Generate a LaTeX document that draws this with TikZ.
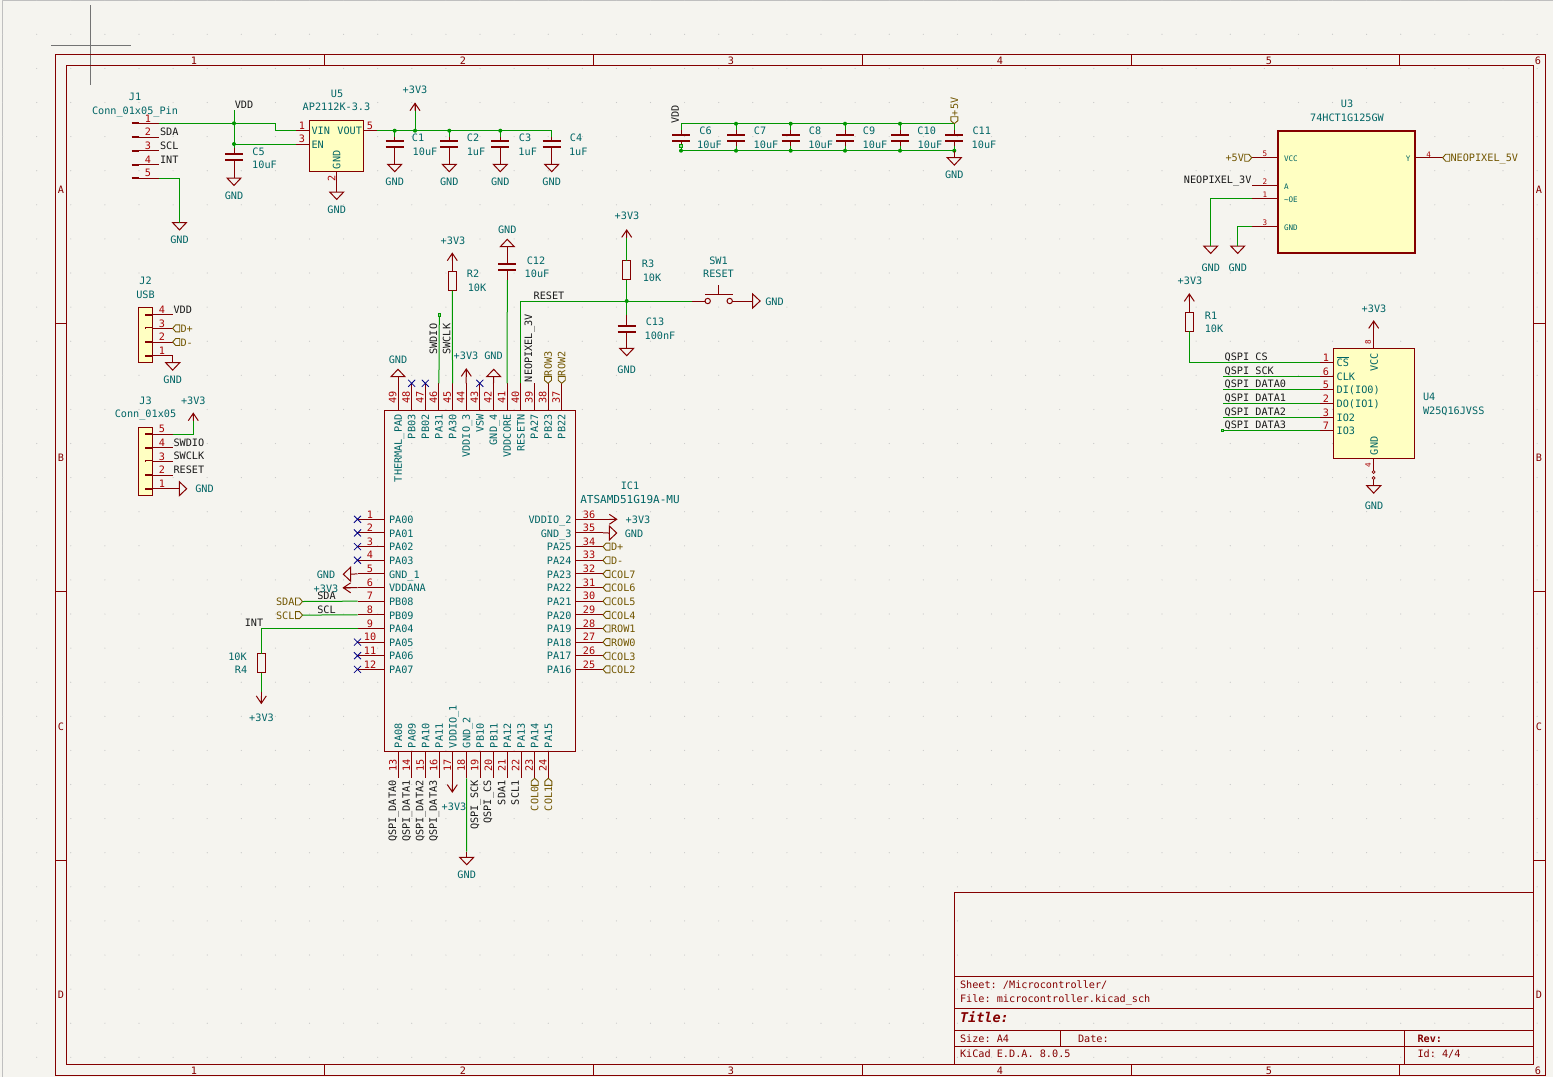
\documentclass[tikz,border=0pt]{standalone}
\usepackage{fontspec}
\setmonofont{DejaVu Sans Mono}
\definecolor{sheetbg}{HTML}{F5F4EF}
\definecolor{kired}{HTML}{840000}
\definecolor{pinred}{HTML}{A90000}
\definecolor{fieldteal}{HTML}{006464}
\definecolor{wiregreen}{HTML}{009600}
\definecolor{hierbrown}{HTML}{725600}
\definecolor{ncblue}{HTML}{000084}
\definecolor{symfill}{HTML}{FFFFC2}
\newcommand{\kifont}{\fontsize{10.2}{12}\selectfont\ttfamily}
\newcommand{\kismall}{\fontsize{7.6}{9}\selectfont\ttfamily}
\tikzstyle{wire} = [draw=wiregreen, line width=1pt]
\tikzstyle{pinl} = [draw=kired, line width=1pt]
\tikzstyle{stub} = [draw=kired, line width=2pt]
\tikzstyle{nconn} = [draw=ncblue, line width=.8pt]
\tikzstyle{frame} = [draw=kired, line width=1pt]
\tikzstyle{hline} = [draw=hierbrown, line width=.9pt]
\tikzstyle{txt} = [font=\kifont, inner sep=0pt, outer sep=0pt, text height=7.5pt, text depth=0pt, yshift=-.5pt]
\tikzstyle{fld} = [txt, text=fieldteal]
\tikzstyle{num} = [txt, text=pinred]
\tikzstyle{net} = [txt, text=black!90]
\tikzstyle{hier} = [txt, text=hierbrown]
\tikzstyle{sheet} = [txt, text=kired, anchor=west]
\tikzstyle{junc} = [circle, fill=wiregreen, inner sep=0pt, minimum size=4pt]
\tikzstyle{dang} = [rectangle, draw=wiregreen, fill=wiregreen!40, line width=.8pt, inner sep=0pt, minimum size=2.6pt]
\tikzstyle{chip} = [rectangle, draw=kired, fill=symfill, line width=1pt, inner sep=0pt, outer sep=0pt]
\tikzstyle{res} = [rectangle, draw=kired, line width=1pt, inner sep=0pt, outer sep=0pt, minimum width=8pt, minimum height=19pt]
\newcommand{\gndsym}[4]{\coordinate (#1) at (#2,#3);
  \draw[pinl, shift={(#2,#3)}, rotate=#4] (-7,0) -- (7,0) -- (0,7.4) -- cycle;}
\newcommand{\pwrsym}[4]{\coordinate (#1) at (#2,#3);
  \draw[pinl, shift={(#2,#3)}, rotate=#4] (-5,7.4) -- (0,0) -- (5,7.4) (0,0) -- (0,7.4);}
\newcommand{\hiersym}[4]{\coordinate (#1) at (#2,#3);
  \draw[hline, shift={(#2,#3)}, rotate=#4] (0,0) -- (3,-3.5) -- (7,-3.5) -- (7,3.5) -- (3,3.5) -- cycle;}
\newcommand{\capsym}[3]{\coordinate (#1t) at (#2,#3); \coordinate (#1b) at (#2,#3+6);
  \draw[stub] (#2-9,#3) -- (#2+9,#3) (#2-9,#3+6) -- (#2+9,#3+6);}
\begin{document}
\begin{tikzpicture}[x=1pt, y=-1pt]
        \useasboundingbox (0,0) rectangle (1553,1077);
        \fill[sheetbg] (0,0) rectangle (1553,1077);
        \draw[black!25, line width=.8pt] (2,1077) -- (2,.5) -- (1553,.5);
        % Grid
        \foreach \i in {0,...,45} \foreach \j in {0,...,31}
            \fill[black!22] ({2.6+\i*34.1},{.2+\j*34.1}) circle (.6);
        \draw[black!55, line width=.8pt] (90,5) -- (90,85) (51,45) -- (131,45);

        % Sheet frame
        \draw[frame] (55.5,54.5) rectangle (1545,1075);
        \draw[frame] (66.5,65.5) rectangle (1533.5,1064);
        \foreach \x in {324.5,593,862,1131,1399.6}
            \draw[frame] (\x,54.5) -- (\x,65.5) (\x,1064) -- (\x,1075);
        \foreach \y in {323,591,860}
            \draw[frame] (55.5,\y) -- (66.5,\y) (1533.5,\y) -- (1545,\y);
        \foreach \t/\x [count=\i] in {1/194,2/463,3/731,4/1000,5/1269,6/1538} {
            \node (coltop\i) [sheet, anchor=center] at (\x,60) {\t};
            \node (colbot\i) [sheet, anchor=center] at (\x,1070) {\t};
        }
        \foreach \t/\y [count=\i] in {A/189,B/457,C/726,D/994} {
            \node (rowl\i) [sheet, anchor=center] at (61,\y) {\t};
            \node (rowr\i) [sheet, anchor=center] at (1539,\y) {\t};
        }
        % Title block
        \draw[frame] (954,1064) -- (954,892) -- (1533.5,892) (954,976) -- (1533.5,976) (954,1008) -- (1533.5,1008)
            (954,1030) -- (1533.5,1030) (954,1046) -- (1533.5,1046) (1060.8,1030) -- (1060.8,1046) (1404.6,1030) -- (1404.6,1064);
        \node (sheetname) [sheet] at (960,984) {Sheet: /Microcontroller/};
        \node (filename) [sheet] at (960,998.5) {File: microcontroller.kicad\_sch};
        \node (titlename) [sheet, font=\fontsize{13.5}{15}\selectfont\ttfamily\bfseries\itshape] at (960,1018) {Title:};
        \node (sizename) [sheet] at (960,1038.5) {Size: A4};
        \node (datename) [sheet] at (1078,1038.5) {Date:};
        \node (revname) [sheet, font=\kifont\bfseries] at (1417.5,1038) {Rev:};
        \node (kicadname) [sheet] at (960,1053) {KiCad E.D.A. 8.0.5};
        \node (idname) [sheet] at (1417.5,1053) {Id: 4/4};

        % IC1
        \node (ic1) [chip, fill=none, minimum width=191pt, minimum height=341pt] at (480.2,581) {};
        \node (ic1ref) [fld] at (630,485) {IC1};
        \node (ic1val) [fld, font=\fontsize{11}{12}\selectfont\ttfamily] at (630,499) {ATSAMD51G19A-MU};
        \foreach \n/\t [count=\i, evaluate=\i as \py using 505.66+13.64*\i] in {1/PA00,2/PA01,3/PA02,4/PA03,5/GND\_1,6/VDDANA,7/PB08,8/PB09,9/PA04,10/PA05,11/PA06,12/PA07} {
            \coordinate (p\n) at (357.5,\py);
            \draw[pinl] (384.7,\py) -- (p\n);
            \node (pinnum\n) [num] at (370,\py-5.5) {\n};
            \node (pinname\n) [fld, anchor=west] at (389,\py) {\t};
        }
        \foreach \n/\t [count=\i, evaluate=\i as \py using 505.66+13.64*\i] in {36/VDDIO\_2,35/GND\_3,34/PA25,33/PA24,32/PA23,31/PA22,30/PA21,29/PA20,28/PA19,27/PA18,26/PA17,25/PA16} {
            \coordinate (p\n) at (603,\py);
            \draw[pinl] (575.7,\py) -- (p\n);
            \node (pinnum\n) [num] at (589,\py-5.5) {\n};
            \node (pinname\n) [fld, anchor=east] at (571.5,\py) {\t};
        }
        \foreach \n/\t [count=\i, evaluate=\i as \px using 384.36+13.64*\i] in {49/THERMAL\_PAD,48/PB03,47/PB02,46/PA31,45/PA30,44/VDDIO\_3,43/VSW,42/GND\_4,41/VDDCORE,40/RESETN,39/PA27,38/PB23,37/PB22} {
            \coordinate (p\n) at (\px,383.3);
            \draw[pinl] (\px,410.3) -- (p\n);
            \node (pinnum\n) [num, rotate=90] at (\px-5.5,397) {\n};
            \node (pinname\n) [fld, rotate=90, anchor=east] at (\px,414) {\t};
        }
        \foreach \n/\t [count=\i, evaluate=\i as \px using 384.66+13.64*\i] in {13/PA08,14/PA09,15/PA10,16/PA11,17/VDDIO\_1,18/GND\_2,19/PB10,20/PB11,21/PA12,22/PA13,23/PA14,24/PA15} {
            \coordinate (p\n) at (\px,778.3);
            \draw[pinl] (\px,751.7) -- (p\n);
            \node (pinnum\n) [num, rotate=90] at (\px-5.5,765) {\n};
            \node (pinname\n) [fld, rotate=90, anchor=west] at (\px,747.5) {\t};
        }
        % Not connected
        \foreach \n in {1,2,3,4,10,11,12,48,47,43}
            \draw[nconn] ([shift={(-3.5,-3.5)}]p\n) -- ([shift={(3.5,3.5)}]p\n) ([shift={(-3.5,3.5)}]p\n) -- ([shift={(3.5,-3.5)}]p\n);

        % IC1 left side
        \gndsym{gndp5}{350.7}{574.2}{-90}
        \draw[pinl] (p5) -- (gndp5);
        \node (gndp5lab) [fld] at (326,574) {GND};
        \pwrsym{pwrp6}{343.3}{587.8}{90}
        \draw[pinl] (p6) -- (pwrp6);
        \node (pwrp6lab) [fld] at (326,588) {+3V3};
        \hiersym{hsda}{302.5}{601.5}{180}
        \hiersym{hscl}{302.5}{615.1}{180}
        \draw[wire] (p7) -- (hsda);
        \draw[wire] (p8) -- (hscl);
        \node (hsdalab) [hier, anchor=east] at (294.5,601.5) {SDA};
        \node (hscllab) [hier, anchor=east] at (294.5,615.1) {SCL};
        \node (netsda) [net] at (326.5,595) {SDA};
        \node (netscl) [net] at (326.5,609) {SCL};
        \node (netint) [net] at (254,622.5) {INT};
        \node (r4) [res] at (261.3,663) {};
        \pwrsym{pwrr4}{261.3}{703.3}{180}
        \draw[wire] (p9) -| (r4.north);
        \draw[wire] (r4.south) -- (261.3,692);
        \draw[pinl] (261.3,692) -- (pwrr4);
        \node (r4val) [fld] at (237.5,656.5) {10K};
        \node (r4ref) [fld] at (241,669.5) {R4};
        \node (pwrr4lab) [fld] at (261.5,717) {+3V3};

        % IC1 right side
        \pwrsym{pwrp36}{616.7}{519.3}{-90}
        \draw[pinl] (p36) -- (pwrp36);
        \node (pwrp36lab) [fld] at (638,519) {+3V3};
        \gndsym{gndp35}{609.3}{533}{90}
        \draw[pinl] (p35) -- (gndp35);
        \node (gndp35lab) [fld] at (634,533) {GND};
        \foreach \n/\t [count=\i, evaluate=\i as \py using 533+13.64*\i] in {34/D+,33/D-,32/COL7,31/COL6,30/COL5,29/COL4,28/ROW1,27/ROW0,26/COL3,25/COL2} {
            \hiersym{h\n}{603}{\py}{0}
            \node (hlab\n) [hier, anchor=west] at (611,\py) {\t};
        }

        % IC1 top side
        \gndsym{gndp49}{398}{376.7}{180}
        \draw[pinl] (p49) -- (gndp49);
        \node (gndp49lab) [fld] at (398,359) {GND};
        \node (dang46) [dang] at (439.3,315) {};
        \draw[wire] (p46) -- (dang46);
        \node (netswdio) [net, rotate=90, anchor=west] at (433.3,354) {SWDIO};
        \node (netswclk) [net, rotate=90, anchor=west] at (446.7,354) {SWCLK};
        \node (r2) [res] at (452.3,281) {};
        \pwrsym{pwrr2}{452.3}{253.3}{0}
        \draw[pinl] (pwrr2) -- (r2.north);
        \draw[wire] (p45) -- (r2.south);
        \node (pwrr2lab) [fld] at (453,240) {+3V3};
        \node (r2ref) [fld] at (473,273.5) {R2};
        \node (r2val) [fld] at (477,287) {10K};
        \pwrsym{pwrp44}{466.3}{369}{0}
        \draw[pinl] (p44) -- (pwrp44);
        \node (pwrp44lab) [fld] at (466,355) {+3V3};
        \gndsym{gndp42}{493.7}{376.7}{180}
        \draw[pinl] (p42) -- (gndp42);
        \node (gndp42lab) [fld] at (493.5,355) {GND};
        \capsym{c12}{507.3}{263.5}
        \gndsym{gndc12}{507.3}{246.7}{180}
        \draw[pinl] (gndc12) -- (c12t);
        \draw[pinl] (c12b) -- (507.3,280);
        \draw[wire] (p41) -- (507.3,280);
        \node (gndc12lab) [fld] at (507.3,229) {GND};
        \node (c12ref) [fld] at (536,260) {C12};
        \node (c12val) [fld] at (537,273) {10uF};
        \node (junreset) [junc] at (626.7,301) {};
        \draw[wire] (p40) |- (692,301);
        \node (netreset) [net] at (549,295) {RESET};
        \node (netneo) [net, rotate=90, anchor=west] at (528.3,381.5) {NEOPIXEL\_3V};
        \hiersym{hrow3}{548}{383.3}{90}
        \hiersym{hrow2}{561.7}{383.3}{90}
        \node (hrow3lab) [hier, rotate=90, anchor=west] at (548,375.5) {ROW3};
        \node (hrow2lab) [hier, rotate=90, anchor=west] at (561.7,375.5) {ROW2};

        % Reset switch and R3, C13
        \node (r3) [res] at (626.7,270) {};
        \pwrsym{pwrr3}{626.7}{230}{0}
        \draw[pinl] (pwrr3) -- (626.7,238);
        \draw[wire] (626.7,238) -- (r3.north);
        \draw[wire] (r3.south) -- (junreset);
        \capsym{c13}{626.7}{325.7}
        \gndsym{gndc13}{626.7}{348.3}{0}
        \draw[wire] (junreset) -- (626.7,315);
        \draw[pinl] (626.7,315) -- (c13t);
        \draw[pinl] (c13b) -- (gndc13);
        \node (pwrr3lab) [fld] at (627,215.5) {+3V3};
        \node (r3ref) [fld] at (648,263) {R3};
        \node (r3val) [fld] at (652,277) {10K};
        \node (c13ref) [fld] at (655,321.5) {C13};
        \node (c13val) [fld] at (660,335) {100nF};
        \node (gndc13lab) [fld] at (626.7,369) {GND};
        \draw[pinl] (692,301) -- (705,301);
        \draw[pinl] (707.7,301) circle (2.7);
        \draw[pinl] (729.7,301) circle (2.7);
        \draw[pinl] (705,294) -- (732.5,294) (718.7,294) -- (718.7,285);
        \gndsym{gndsw1}{752.7}{301}{90}
        \draw[pinl] (732.4,301) -- (gndsw1);
        \node (sw1ref) [fld] at (718.5,260) {SW1};
        \node (sw1val) [fld] at (718.5,273.5) {RESET};
        \node (gndsw1lab) [fld] at (774.5,301) {GND};

        % IC1 bottom side
        \foreach \n/\t/\x in {a/0/392.3,b/1/406,c/2/419.7,d/3/433}
            \node (netqd\n) [net, rotate=90, anchor=east] at (\x,780) {QSPI\_DATA\t};
        \pwrsym{pwrp17}{452.3}{792}{180}
        \draw[pinl] (452.3,778) -- (pwrp17);
        \node (pwrp17lab) [fld] at (454,806) {+3V3};
        \gndsym{gndp18}{466.7}{857.3}{0}
        \draw[wire] (p18) -- (466.7,851.5);
        \draw[pinl] (466.7,851.5) -- (gndp18);
        \node (gndp18lab) [fld] at (466.7,874) {GND};
        \node (netqsck) [net, rotate=90, anchor=east] at (474.3,780) {QSPI\_SCK};
        \node (netqcs) [net, rotate=90, anchor=east] at (487.3,780) {QSPI\_CS};
        \node (netsda1) [net, rotate=90, anchor=east] at (501.7,780) {SDA1};
        \node (netscl1) [net, rotate=90, anchor=east] at (515,780) {SCL1};
        \hiersym{hcol0}{534.7}{778.3}{-90}
        \hiersym{hcol1}{548.3}{778.3}{-90}
        \node (hcol0lab) [hier, rotate=90, anchor=east] at (534.7,786) {COL0};
        \node (hcol1lab) [hier, rotate=90, anchor=east] at (548.3,786) {COL1};

        % J1
        \foreach \n/\t/\y in {1//123.3,2/SDA/137.2,3/SCL/150.8,4/INT/164.6,5//178.2} {
            \coordinate (j1p\n) at (159,\y);
            \draw[stub] (131.7,\y) -- (139,\y);
            \draw[pinl] (139,\y) -- (j1p\n);
            \node (j1num\n) [num] at (148,\y-5.5) {\n};
            \node (j1net\n) [net, anchor=west] at (160,\y-5.7) {\t};
        }
        \node (j1ref) [fld] at (135,96.5) {J1};
        \node (j1val) [fld] at (135,110) {Conn\_01x05\_Pin};
        \gndsym{gndj1}{179.5}{222.5}{0}
        \draw[wire] (j1p5) -| (gndj1);
        \node (gndj1lab) [fld] at (179.5,239.5) {GND};

        % U5
        \node (u5) [chip, minimum width=54pt, minimum height=50.5pt] at (336.4,146) {};
        \node (u5ref) [fld] at (337,93) {U5};
        \node (u5val) [fld] at (336.5,106) {AP2112K-3.3};
        \node (u5vin) [fld, anchor=west] at (311.5,130.5) {VIN};
        \node (u5en) [fld, anchor=west] at (311.5,144) {EN};
        \node (u5vout) [fld, anchor=east] at (362,130.5) {VOUT};
        \node (u5gnd) [fld, rotate=90, anchor=west] at (336.7,168.5) {GND};
        \coordinate (u5p1) at (295.7,130.7);
        \coordinate (u5p3) at (295.7,144);
        \coordinate (u5p5) at (376.7,130.7);
        \draw[pinl] (u5p1) -- (309.3,130.7);
        \draw[pinl] (u5p3) -- (309.3,144);
        \draw[pinl] (363.3,130.7) -- (u5p5);
        \node (u5num1) [num] at (302,125.5) {1};
        \node (u5num3) [num] at (302,138.5) {3};
        \node (u5num5) [num] at (370,125.5) {5};
        \node (u5num2) [num, rotate=90] at (331.5,178) {2};
        \gndsym{gndu5}{336.7}{192}{0}
        \draw[pinl] (336.7,171) -- (gndu5);
        \node (gndu5lab) [fld] at (336.7,209) {GND};
        \draw[wire] (j1p1) -- (275.7,123.3) |- (u5p1);
        \node (netvdd) [net] at (244,104) {VDD};
        \coordinate (vddtop) at (234,110);
        \capsym{c5}{234}{154.3}
        \draw[wire] (vddtop) -- (234,148);
        \draw[pinl] (234,148) -- (c5t);
        \draw[wire] (234,144) -- (u5p3);
        \node (junvdd1) [junc] at (234,123.3) {};
        \node (junvdd2) [junc] at (234,144) {};
        \gndsym{gndc5}{234}{178}{0}
        \draw[pinl] (c5b) -- (gndc5);
        \node (gndc5lab) [fld] at (234,195) {GND};
        \node (c5ref) [fld] at (258.5,151) {C5};
        \node (c5val) [fld] at (264.5,164) {10uF};

        % C1 to C4
        \foreach \n/\x/\v/\rx/\vx in {1/394.7/10uF/418/425,2/449.3/1uF/473/476,3/500.3/1uF/525/527.7,4/551.7/1uF/576/578.3} {
            \capsym{c\n}{\x}{140.7}
            \draw[wire] (\x,130.7) -- (\x,137);
            \draw[pinl] (\x,137) -- (c\n t);
            \gndsym{gndc\n}{\x}{164.3}{0}
            \draw[pinl] (c\n b) -- (gndc\n);
            \node (gndc\n lab) [fld] at (\x,181) {GND};
            \node (c\n ref) [fld] at (\rx,137) {C\n};
            \node (c\n val) [fld] at (\vx,151) {\v};
        }
        \draw[wire] (u5p5) -- (551.7,130.7);
        \foreach \x [count=\i] in {394.7,415,449.3,500.3}
            \node (junv\i) [junc] at (\x,130.7) {};
        \pwrsym{pwru5}{415}{103.3}{0}
        \draw[pinl] (pwru5) -- (415,111);
        \draw[wire] (415,111) -- (415,130.7);
        \node (pwru5lab) [fld] at (415,89) {+3V3};

        % C6 to C11
        \foreach \n/\x/\rx/\vx in {6/681/705.5/709.5,7/736/760/766,8/790.7/815/820.7,9/845/869/875,10/900/926.7/930,11/954.3/981.7/984} {
            \capsym{c\n}{\x}{135}
            \draw[wire] (\x,123.7) -- (\x,130);
            \draw[pinl] (\x,130) -- (c\n t);
            \draw[pinl] (c\n b) -- (\x,146);
            \draw[wire] (\x,146) -- (\x,150.7);
            \node (c\n ref) [fld] at (\rx,130) {C\n};
            \node (c\n val) [fld] at (\vx,144) {10uF};
            \node (junb\n) [junc] at (\x,150.7) {};
        }
        \draw[wire] (681,123.7) -- (954.3,123.7);
        \draw[wire] (681,150.7) -- (954.3,150.7);
        \foreach \x [count=\i] in {736,790.7,845,900}
            \node (junt\i) [junc] at (\x,123.7) {};
        \node (dangvdd) [dang] at (681,146) {};
        \node (netvddb) [net, rotate=90, anchor=west] at (675,123) {VDD};
        \hiersym{h5va}{954.3}{123.7}{90}
        \node (h5valab) [hier, rotate=90, anchor=west] at (954.3,115.5) {+5V};
        \gndsym{gndc11}{954.3}{157.7}{0}
        \draw[pinl] (954.3,150.7) -- (gndc11);
        \node (gndc11lab) [fld] at (954.3,174) {GND};

        % J2
        \node (j2) [chip, minimum width=14.4pt, minimum height=55pt] at (145.5,334.8) {};
        \node (j2ref) [fld] at (145.5,280) {J2};
        \node (j2val) [fld] at (145.5,294) {USB};
        \foreach \n/\y in {4/314.7,3/328.3,2/342,1/355.7} {
            \coordinate (j2p\n) at (172.7,\y);
            \draw[stub] (145,\y) -- (152.7,\y);
            \draw[pinl] (152.7,\y) -- (j2p\n);
            \node (j2num\n) [num] at (162,\y-5.5) {\n};
        }
        \draw[symfill, line width=.7pt] (146,328.3) -- (151.8,328.3);
        \node (j2vdd) [net, anchor=west] at (173.5,309) {VDD};
        \hiersym{hdpj}{172.7}{328.3}{0}
        \hiersym{hdmj}{172.7}{342}{0}
        \node (hdpjlab) [hier, anchor=west] at (180.5,328.3) {D+};
        \node (hdmjlab) [hier, anchor=west] at (180.5,342) {D-};
        \gndsym{gndj2}{172.7}{362.7}{0}
        \draw[pinl] (j2p1) -- (gndj2);
        \node (gndj2lab) [fld] at (172.7,379) {GND};

        % J3
        \node (j3) [chip, minimum width=14.4pt, minimum height=68.4pt] at (145.5,461.5) {};
        \node (j3ref) [fld] at (145.5,400) {J3};
        \node (j3val) [fld] at (145.5,413.5) {Conn\_01x05};
        \foreach \n/\t/\y in {5//434,4/SWDIO/447.7,3/SWCLK/461.4,2/RESET/475,1//488.7} {
            \coordinate (j3p\n) at (172.7,\y);
            \draw[stub] (145,\y) -- (152.7,\y);
            \draw[pinl] (152.7,\y) -- (j3p\n);
            \node (j3num\n) [num] at (162,\y-5.5) {\n};
            \node (j3net\n) [net, anchor=west] at (173.5,\y-5.7) {\t};
        }
        \draw[symfill, line width=.7pt] (146,461.4) -- (151.8,461.4);
        \pwrsym{pwrj3}{193.3}{413.3}{0}
        \draw[wire] (j3p5) -| (193.3,421);
        \draw[pinl] (193.3,421) -- (pwrj3);
        \node (pwrj3lab) [fld] at (193.3,400) {+3V3};
        \gndsym{gndj3}{179.3}{488.7}{90}
        \draw[pinl] (j3p1) -- (gndj3);
        \node (gndj3lab) [fld] at (204.5,488.7) {GND};

        % U3
        \node (u3) [chip, line width=2pt, minimum width=137.6pt, minimum height=121.7pt] at (1346.5,191.8) {};
        \node (u3ref) [fld] at (1347,103) {U3};
        \node (u3val) [fld] at (1347,117) {74HCT1G125GW};
        \foreach \n/\t/\y in {5/VCC/157.7,2/A/185.3,1/\textasciitilde OE/198.3,3/GND/226} {
            \coordinate (u3p\n) at (1252,\y);
            \draw[pinl] (u3p\n) -- (1277.7,\y);
            \node (u3num\n) [num, font=\kismall] at (1265,\y-5) {\n};
            \node (u3name\n) [fld, font=\kismall, anchor=west] at (1284,\y) {\t};
        }
        \coordinate (u3p4) at (1442.7,157.7);
        \draw[pinl] (1415.3,157.7) -- (u3p4);
        \node (u3num4) [num, font=\kismall] at (1428.7,153) {4};
        \node (u3name4) [fld, font=\kismall, anchor=east] at (1410.5,157.7) {Y};
        \hiersym{h5vb}{1251.7}{157.7}{180}
        \node (h5vblab) [hier, anchor=east] at (1244,157.7) {+5V};
        \node (netneob) [net, anchor=east] at (1251.5,179) {NEOPIXEL\_3V};
        \hiersym{hneo}{1442.7}{157.7}{0}
        \node (hneolab) [hier, anchor=west] at (1450.5,157.7) {NEOPIXEL\_5V};
        \gndsym{gndu3a}{1210.7}{246}{0}
        \gndsym{gndu3b}{1237.7}{246}{0}
        \draw[wire] (u3p1) -| (gndu3a);
        \draw[wire] (u3p3) -| (gndu3b);
        \node (gndu3alab) [fld] at (1210.7,267) {GND};
        \node (gndu3blab) [fld] at (1237.7,267) {GND};

        % U4 and R1
        \node (u4) [chip, minimum width=81.4pt, minimum height=110pt] at (1374,403.7) {};
        \node (u4ref) [fld, anchor=west] at (1423,396) {U4};
        \node (u4val) [fld, anchor=west] at (1423,410) {W25Q16JVSS};
        \foreach \n/\t/\y/\m in {1/$\overline{\mbox{CS}}$/362.3/CS,6/CLK/376.3/SCK,5/DI(IO0)/389.3/DATA0,2/DO(IO1)/403.3/DATA1,3/IO2/417.3/DATA2,7/IO3/430.3/DATA3} {
            \coordinate (u4p\n) at (1320,\y);
            \draw[pinl] (u4p\n) -- (1333.3,\y);
            \node (u4num\n) [num] at (1326,\y-5.5) {\n};
            \node (u4name\n) [fld, anchor=west] at (1336.7,\y) {\t};
            \node (u4net\n) [net, anchor=west] at (1224.7,\y-5.7) {QSPI\_\m};
        }
        \foreach \n/\y in {6/376.3,5/389.3,2/403.3,3/417.3}
            \draw[wire] (u4p\n) -- (1223.3,\y);
        \node (dang7) [dang] at (1222.5,430.3) {};
        \draw[wire] (u4p7) -- (dang7);
        \node (r1) [res] at (1189.3,321.8) {};
        \pwrsym{pwrr1}{1189.3}{294}{0}
        \draw[pinl] (pwrr1) -- (r1.north);
        \draw[wire] (r1.south) |- (u4p1);
        \node (pwrr1lab) [fld] at (1190,280.5) {+3V3};
        \node (r1ref) [fld] at (1211,315) {R1};
        \node (r1val) [fld] at (1214,328) {10K};
        \pwrsym{pwru4}{1373.7}{321}{0}
        \draw[pinl] (pwru4) -- (1373.7,348.7);
        \node (pwru4lab) [fld] at (1374,308) {+3V3};
        \node (u4vcc) [fld, rotate=90, anchor=east] at (1374,353) {VCC};
        \node (u4gnd) [fld, rotate=90, anchor=west] at (1374,454.5) {GND};
        \node (u4num8) [num, font=\kismall, rotate=90] at (1367,342) {8};
        \node (u4num4) [num, font=\kismall, rotate=90] at (1367,465) {4};
        \draw[pinl] (1373.7,458.7) -- (1373.7,470.5);
        \draw[pinl, line width=.7pt] (1373.7,472) circle (1.5) (1373.7,478) circle (1.5);
        \gndsym{gndu4}{1373.7}{485.7}{0}
        \draw[pinl] (1373.7,479.5) -- (gndu4);
        \node (gndu4lab) [fld] at (1374,505.7) {GND};
\end{tikzpicture}
\end{document}
